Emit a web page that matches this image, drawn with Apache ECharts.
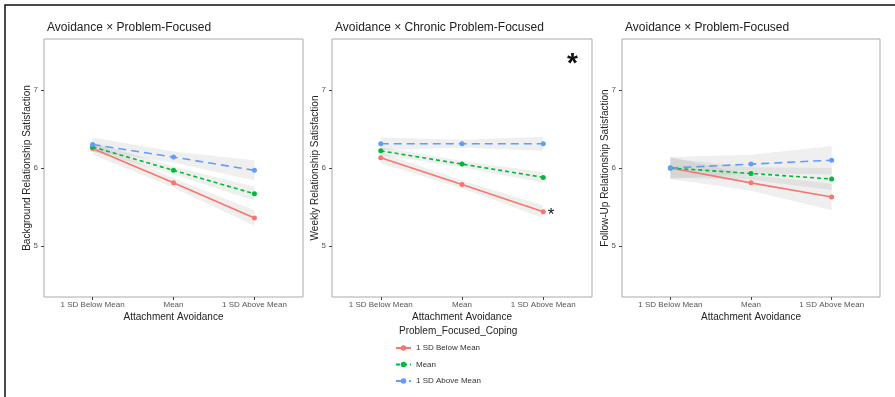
<!DOCTYPE html>
<html>
<head>
<meta charset="utf-8">
<script src="https://cdn.jsdelivr.net/npm/echarts@6/dist/echarts.min.js"></script>
<style>
  html, body { margin: 0; padding: 0; background: #fff; }
  #chart { width: 895px; height: 397px; }
</style>
</head>
<body>
<div id="chart"></div>
<script>
// x categories and coping groups
const categories = ['1 SD Below Mean', 'Mean', '1 SD Above Mean']
const groups = ['1 SD Below Mean', 'Mean', '1 SD Above Mean']
const xPos = [1, 2, 3]
const yTicks = [5, 6, 7]

// panel 1: background satisfaction
const bgBelow = [6.25, 5.81, 5.36]
const bgMean = [6.27, 5.97, 5.67]
const bgAbove = [6.30, 6.14, 5.97]
const bgBelowCi = [0.08, 0.06, 0.10]
const bgMeanCi = [0.06, 0.05, 0.09]
const bgAboveCi = [0.09, 0.07, 0.13]

// panel 2: weekly satisfaction
const wkBelow = [6.13, 5.79, 5.44]
const wkMean = [6.22, 6.05, 5.88]
const wkAbove = [6.31, 6.31, 6.31]
const wkBelowCi = [0.07, 0.05, 0.08]
const wkMeanCi = [0.05, 0.04, 0.07]
const wkAboveCi = [0.08, 0.05, 0.09]

// panel 3: follow-up satisfaction
const fuBelow = [6.00, 5.81, 5.63]
const fuMean = [6.00, 5.93, 5.86]
const fuAbove = [6.00, 6.05, 6.10]
const fuBelowCi = [0.14, 0.10, 0.17]
const fuMeanCi = [0.12, 0.08, 0.14]
const fuAboveCi = [0.14, 0.12, 0.18]

const colors = ['#F8766D', '#00BA38', '#619CFF']
const dashes = ['solid', [4, 3], [8, 5]]
const font = 'Liberation Sans, Arial, sans-serif'

const panels = [
  { title: 'Avoidance × Problem-Focused', yName: 'Background Relationship Satisfaction', left: 44, width: 259,
    lines: [bgBelow, bgMean, bgAbove], cis: [bgBelowCi, bgMeanCi, bgAboveCi] },
  { title: 'Avoidance × Chronic Problem-Focused', yName: 'Weekly Relationship Satisfaction', left: 332, width: 260,
    lines: [wkBelow, wkMean, wkAbove], cis: [wkBelowCi, wkMeanCi, wkAboveCi] },
  { title: 'Avoidance × Problem-Focused', yName: 'Follow-Up Relationship Satisfaction', left: 622, width: 258,
    lines: [fuBelow, fuMean, fuAbove], cis: [fuBelowCi, fuMeanCi, fuAboveCi] }
]

// ribbon piece between point k and k+1 (x, low, high)
function renderBand (params, api) {
  const k = params.dataIndex
  const rows = params.context.rows
  if (k >= rows.length - 1) return null
  const a = rows[k]
  const b = rows[k + 1]
  const pts = [
    api.coord([a[0], a[1]]), api.coord([b[0], b[1]]),
    api.coord([b[0], b[2]]), api.coord([a[0], a[2]])
  ]
  return { type: 'polygon', shape: { points: pts }, style: { fill: 'rgba(140,140,140,0.14)' } }
}

const grid = []
const xAxis = []
const yAxis = []
const series = []
const title = []

panels.forEach((p, i) => {
  grid.push({ left: p.left, top: 39, width: p.width, height: 258, show: true,
    borderColor: '#aaaaaa', borderWidth: 1, backgroundColor: '#fff' })
  title.push({ text: p.title, left: p.left - 2, top: 17,
    textStyle: { fontFamily: font, fontSize: 12, fontWeight: 'normal', color: '#222' } })
  // discrete axis drawn as value axis so the ggplot 0.6 padding can be kept
  xAxis.push({
    gridIndex: i, type: 'value', min: 0.4, max: 3.6,
    name: 'Attachment Avoidance', nameLocation: 'middle', nameGap: 15, nameMoveOverlap: false,
    nameTextStyle: { fontFamily: font, fontSize: 10, color: '#222' },
    splitLine: { show: false },
    axisLine: { show: false },
    axisTick: { show: true, length: 3, customValues: xPos, lineStyle: { color: '#444' } },
    axisLabel: { fontFamily: font, fontSize: 8, color: '#555', margin: 4, customValues: xPos,
      formatter: v => categories[Math.round(v) - 1] }
  })
  yAxis.push({
    gridIndex: i, type: 'value', min: 4.35, max: 7.65,
    name: p.yName, nameLocation: 'middle', nameGap: 12, nameMoveOverlap: false,
    nameTextStyle: { fontFamily: font, fontSize: 10, color: '#222' },
    splitLine: { show: false },
    axisLine: { show: false },
    axisTick: { show: true, length: 3, customValues: yTicks, lineStyle: { color: '#444' } },
    axisLabel: { fontFamily: font, fontSize: 8, color: '#555', margin: 6, customValues: yTicks }
  })
  // confidence ribbons first
  p.lines.forEach((vals, g) => {
    const ci = p.cis[g]
    const rows = vals.map((v, k) => [xPos[k], +(v - ci[k]).toFixed(3), +(v + ci[k]).toFixed(3)])
    series.push({
      type: 'custom', name: 'band' + i + '_' + g, xAxisIndex: i, yAxisIndex: i,
      data: rows, silent: true, z: 1, clip: true,
      encode: { x: 0, y: [1, 2] },
      renderItem: (params, api) => {
        params.context.rows = rows
        return renderBand(params, api)
      }
    })
  })
  p.lines.forEach((vals, g) => {
    const data = vals.map((v, k) => {
      if (i === 1 && g === 0 && k === 2) {
        return { value: [xPos[k], v], label: { show: true, position: 'right', formatter: '*', distance: 2,
          fontFamily: font, fontSize: 17, color: '#111', offset: [0, 4] } }
      }
      return [xPos[k], v]
    })
    series.push({
      type: 'line', name: groups[g], xAxisIndex: i, yAxisIndex: i, data: data,
      symbol: 'circle', symbolSize: 5, z: 3,
      itemStyle: { color: colors[g] },
      lineStyle: { color: colors[g], width: 1.6, type: dashes[g] }
    })
  })
})

title.push({ text: 'Problem_Focused_Coping', left: 394, top: 321,
  textStyle: { fontFamily: font, fontSize: 10, fontWeight: 'normal', color: '#222' } })

const chart = echarts.init(document.getElementById('chart'))
chart.setOption({
  animation: false,
  backgroundColor: '#fff',
  title: title,
  grid: grid,
  xAxis: xAxis,
  yAxis: yAxis,
  legend: {
    data: groups, orient: 'vertical', left: 395, top: 344, padding: 0,
    itemWidth: 15, itemHeight: 7, itemGap: 8.5,
    textStyle: { fontFamily: font, fontSize: 8, color: '#333' }
  },
  graphic: [
    { type: 'rect', shape: { x: 5, y: 5, width: 1000, height: 500 },
      style: { fill: 'none', stroke: '#111', lineWidth: 1.5 } },
    { type: 'text', x: 567, y: 50,
      style: { text: '*', font: 'bold 28px Liberation Sans, Arial, sans-serif', fill: '#111' } }
  ],
  series: series
})
</script>
</body>
</html>
